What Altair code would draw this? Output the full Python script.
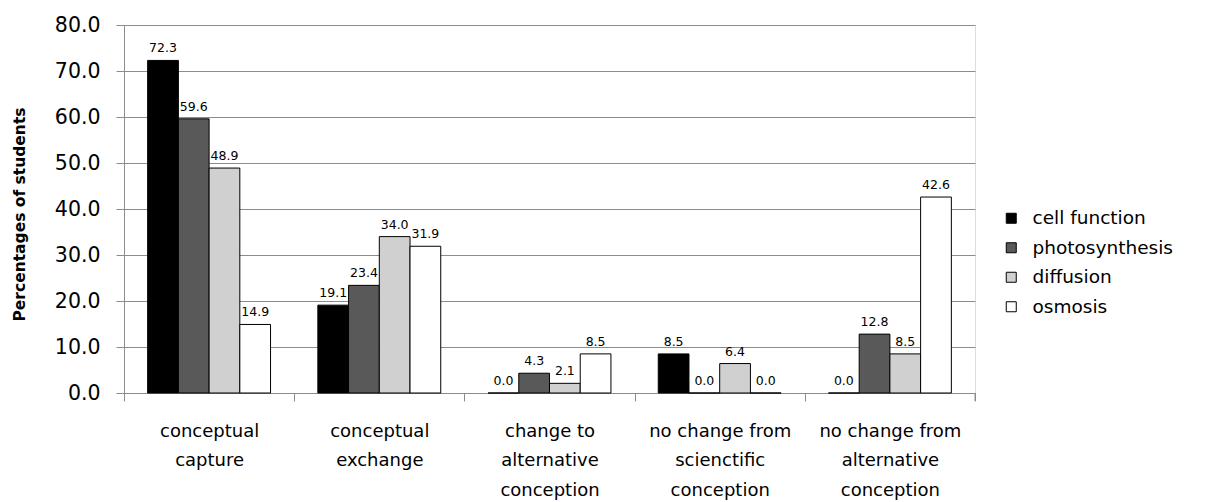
import altair as alt
import pandas as pd

categories = [
    "conceptual|capture",
    "conceptual|exchange",
    "change to|alternative|conception",
    "no change from|scienctific|conception",
    "no change from|alternative|conception",
]
series = ["cell function", "photosynthesis", "diffusion", "osmosis"]
cell_function = [72.3, 19.1, 0.0, 8.5, 0.0]
photosynthesis = [59.6, 23.4, 4.3, 0.0, 12.8]
diffusion = [48.9, 34.0, 2.1, 6.4, 8.5]
osmosis = [14.9, 31.9, 8.5, 0.0, 42.6]
colors = ["#000000", "#595959", "#d0d0d0", "#ffffff"]
y_ticks = [0, 10, 20, 30, 40, 50, 60, 70, 80]

rows = []
for s, vals in zip(series, [cell_function, photosynthesis, diffusion, osmosis]):
    for c, v in zip(categories, vals):
        rows.append({"category": c, "series": s, "value": v})
df = pd.DataFrame(rows)

FONT = "DejaVu Sans"
GRID = "#8c8c8c"

base = alt.Chart(df).encode(
    x=alt.X(
        "category:N",
        sort=categories,
        scale=alt.Scale(paddingInner=0, paddingOuter=0),
        axis=alt.Axis(
            title=None,
            labelExpr="split(datum.label, '|')",
            tickBand="extent",
            labelAngle=0,
            labelFont=FONT,
            labelFontSize=18,
            labelLineHeight=29.5,
            labelColor="black",
            labelPadding=21,
            tickSize=8,
            tickColor=GRID,
            domainColor=GRID,
            grid=False,
        ),
    ),
    xOffset=alt.XOffset(
        "series:N", sort=series, scale=alt.Scale(paddingInner=0, paddingOuter=0.77)
    ),
    y=alt.Y(
        "value:Q",
        scale=alt.Scale(domain=[0, 80], nice=False),
        axis=alt.Axis(
            values=y_ticks,
            format=".1f",
            title="Percentages of students",
            titleFont=FONT,
            titleFontSize=15.5,
            titleFontWeight="bold",
            titleColor="black",
            titleX=-105,
            titleY=189,
            titleAlign="center",
            titleBaseline="middle",
            labelFont=FONT,
            labelFontSize=20.5,
            labelColor="black",
            labelPadding=16,
            tickSize=8,
            tickColor=GRID,
            domainColor=GRID,
            gridColor=GRID,
            grid=True,
        ),
    ),
)

bars = base.mark_bar(stroke="black", strokeWidth=1).encode(
    color=alt.Color(
        "series:N",
        sort=series,
        scale=alt.Scale(domain=series, range=colors),
        legend=alt.Legend(
            title=None,
            orient="none",
            legendX=878,
            legendY=184,
            symbolType="square",
            symbolSize=100,
            symbolStrokeColor="black",
            symbolStrokeWidth=1,
            labelFont=FONT,
            labelFontSize=18.5,
            labelColor="black",
            labelOffset=12,
            rowPadding=10.5,
        ),
    )
)

text = base.mark_text(
    baseline="bottom", dy=-5, font="DejaVu Sans", fontSize=12.5, color="black"
).encode(text=alt.Text("value:Q", format=".1f"))

end_tick = (
    alt.Chart(pd.DataFrame({"k": [0]}))
    .mark_rule(color=GRID, strokeWidth=1)
    .encode(x=alt.value(851), y=alt.value(368), y2=alt.value(376))
)

chart = (
    alt.layer(bars, text, end_tick)
    .properties(
        width=851,
        height=368,
        padding={"left": 124, "top": 25, "right": 233, "bottom": 109},
        autosize=alt.AutoSizeParams(type="none"),
    )
    .configure_view(stroke=None)
    .configure(background="white")
)

chart.save("out.html", embed_options={"renderer": "svg", "actions": False})
